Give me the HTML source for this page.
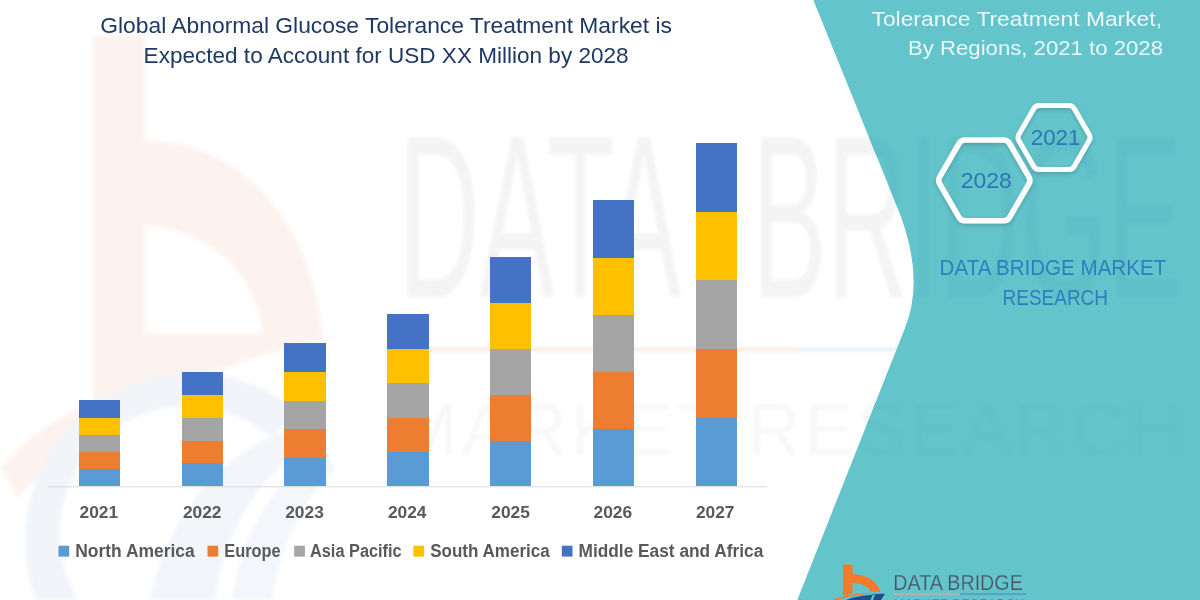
<!DOCTYPE html>
<html lang="en">
<head>
<meta charset="utf-8">
<title>Global Abnormal Glucose Tolerance Treatment Market</title>
<style>
html,body{margin:0;padding:0;background:#fff;}
body{width:1200px;height:600px;overflow:hidden;font-family:"Liberation Sans",sans-serif;}
svg{display:block;}
text{font-family:"Liberation Sans",sans-serif;}
</style>
</head>
<body>
<svg width="1200" height="600" viewBox="0 0 1200 600">
<defs>
<filter id="soft" x="-10%" y="-10%" width="120%" height="120%"><feGaussianBlur stdDeviation="1.6"/></filter>
<filter id="soft2" x="-10%" y="-10%" width="120%" height="120%"><feGaussianBlur stdDeviation="2.2"/></filter>
<filter id="hexsh" x="-20%" y="-20%" width="140%" height="140%">
<feGaussianBlur in="SourceAlpha" stdDeviation="2"/><feOffset dx="0" dy="1.5"/><feComponentTransfer><feFuncA type="linear" slope="0.18"/></feComponentTransfer>
<feMerge><feMergeNode/><feMergeNode in="SourceGraphic"/></feMerge></filter>
<clipPath id="tealclip"><path d="M813.3,0 L896,204 Q926,276 905,328 L797.3,600 L1200,600 L1200,0 Z"/></clipPath>
</defs>
<rect width="1200" height="600" fill="#ffffff"/>

<!-- watermark on white -->
<g id="wm-left" filter="url(#soft2)">
  <!-- big faint b -->
  <path fill-rule="evenodd" d="M93,36 L145,36 L145,140 C235,140 312,215 323,338 C250,348 160,372 93,402 Z M145,226 C215,230 258,280 262,333 L145,333 Z" fill="#FDF3EE"/>
  <path d="M0,468 C60,395 200,350 340,336 C220,362 90,410 18,498 Z" fill="#FDF3EE"/>
  <!-- globe -->
  <path d="M36,600 A167,167 0 0 1 300,413 L270,436 A128,128 0 0 0 78,600 Z" fill="#F1F4F9"/>
  <path d="M150,600 C165,520 220,450 300,425 L318,440 C260,470 225,530 215,600 Z" fill="#F2F5FA"/>
  <path d="M232,600 C240,540 270,480 325,450 L335,470 C300,500 280,550 272,600 Z" fill="#F3F6FA"/>
</g>
<g id="wm-text" filter="url(#soft)" fill="#F4F4F4">
  <text y="297" font-size="232"><tspan x="399" textLength="282" lengthAdjust="spacingAndGlyphs">DATA</tspan><tspan x="752" textLength="430" lengthAdjust="spacingAndGlyphs">BRIDGE</tspan></text>
  <text x="396" y="455" font-size="74" textLength="786" lengthAdjust="spacing" fill="#F8F8F8">MARKET RESEARCH</text>
  <rect x="422" y="347.5" width="376" height="4" fill="#FCEBE2"/>
  <rect x="798" y="347.5" width="120" height="4" fill="#EAF0F7"/>
</g>

<!-- teal panel -->
<path d="M813.3,0 L896,204 Q926,276 905,328 L797.3,600 L1200,600 L1200,0 Z" fill="#63C4CB"/>
<g clip-path="url(#tealclip)">
<g filter="url(#soft)" fill="#5EBFC8">
  <text y="297" font-size="232"><tspan x="399" textLength="282" lengthAdjust="spacingAndGlyphs">DATA</tspan><tspan x="752" textLength="430" lengthAdjust="spacingAndGlyphs">BRIDGE</tspan></text>
  <text x="396" y="455" font-size="74" textLength="786" lengthAdjust="spacing" fill="#60C2CA">MARKET RESEARCH</text>
</g>
</g>

<!-- chart title -->
<g fill="#1F3864" font-size="22.4">
<text x="100.3" y="32.8" textLength="571.6" lengthAdjust="spacingAndGlyphs">Global Abnormal Glucose Tolerance Treatment Market is</text>
<text x="143.6" y="62.8" textLength="485" lengthAdjust="spacingAndGlyphs">Expected to Account for USD XX Million by 2028</text>
</g>

<!-- bars -->
<g shape-rendering="crispEdges">
<rect x="79.0" y="468.84" width="41.2" height="17.46" fill="#5B9BD5"/>
<rect x="79.0" y="451.68" width="41.2" height="17.46" fill="#ED7D31"/>
<rect x="79.0" y="434.52" width="41.2" height="17.46" fill="#A5A5A5"/>
<rect x="79.0" y="417.36" width="41.2" height="17.46" fill="#FFC000"/>
<rect x="79.0" y="400.20" width="41.2" height="17.46" fill="#4472C4"/>
<rect x="182.0" y="463.12" width="41.2" height="23.18" fill="#5B9BD5"/>
<rect x="182.0" y="440.24" width="41.2" height="23.18" fill="#ED7D31"/>
<rect x="182.0" y="417.36" width="41.2" height="23.18" fill="#A5A5A5"/>
<rect x="182.0" y="394.48" width="41.2" height="23.18" fill="#FFC000"/>
<rect x="182.0" y="371.60" width="41.2" height="23.18" fill="#4472C4"/>
<rect x="284.3" y="457.40" width="41.2" height="28.90" fill="#5B9BD5"/>
<rect x="284.3" y="428.80" width="41.2" height="28.90" fill="#ED7D31"/>
<rect x="284.3" y="400.20" width="41.2" height="28.90" fill="#A5A5A5"/>
<rect x="284.3" y="371.60" width="41.2" height="28.90" fill="#FFC000"/>
<rect x="284.3" y="343.00" width="41.2" height="28.90" fill="#4472C4"/>
<rect x="387.3" y="451.68" width="41.2" height="34.62" fill="#5B9BD5"/>
<rect x="387.3" y="417.36" width="41.2" height="34.62" fill="#ED7D31"/>
<rect x="387.3" y="383.04" width="41.2" height="34.62" fill="#A5A5A5"/>
<rect x="387.3" y="348.72" width="41.2" height="34.62" fill="#FFC000"/>
<rect x="387.3" y="314.40" width="41.2" height="34.62" fill="#4472C4"/>
<rect x="489.5" y="440.24" width="41.2" height="46.06" fill="#5B9BD5"/>
<rect x="489.5" y="394.48" width="41.2" height="46.06" fill="#ED7D31"/>
<rect x="489.5" y="348.72" width="41.2" height="46.06" fill="#A5A5A5"/>
<rect x="489.5" y="302.96" width="41.2" height="46.06" fill="#FFC000"/>
<rect x="489.5" y="257.20" width="41.2" height="46.06" fill="#4472C4"/>
<rect x="592.5" y="428.80" width="41.2" height="57.50" fill="#5B9BD5"/>
<rect x="592.5" y="371.60" width="41.2" height="57.50" fill="#ED7D31"/>
<rect x="592.5" y="314.40" width="41.2" height="57.50" fill="#A5A5A5"/>
<rect x="592.5" y="257.20" width="41.2" height="57.50" fill="#FFC000"/>
<rect x="592.5" y="200.00" width="41.2" height="57.50" fill="#4472C4"/>
<rect x="695.5" y="417.36" width="41.2" height="68.94" fill="#5B9BD5"/>
<rect x="695.5" y="348.72" width="41.2" height="68.94" fill="#ED7D31"/>
<rect x="695.5" y="280.08" width="41.2" height="68.94" fill="#A5A5A5"/>
<rect x="695.5" y="211.44" width="41.2" height="68.94" fill="#FFC000"/>
<rect x="695.5" y="142.80" width="41.2" height="68.94" fill="#4472C4"/>
</g>
<rect x="48" y="486.3" width="719" height="1" fill="#D9D9D9"/>

<!-- year labels -->
<g fill="#595959" font-size="16.4" font-weight="bold">
<text x="98.8" y="518.4" text-anchor="middle" textLength="38.6" lengthAdjust="spacingAndGlyphs">2021</text>
<text x="202.2" y="518.4" text-anchor="middle" textLength="38.6" lengthAdjust="spacingAndGlyphs">2022</text>
<text x="304.5" y="518.4" text-anchor="middle" textLength="38.6" lengthAdjust="spacingAndGlyphs">2023</text>
<text x="407.2" y="518.4" text-anchor="middle" textLength="38.6" lengthAdjust="spacingAndGlyphs">2024</text>
<text x="510.6" y="518.4" text-anchor="middle" textLength="38.6" lengthAdjust="spacingAndGlyphs">2025</text>
<text x="612.8" y="518.4" text-anchor="middle" textLength="38.6" lengthAdjust="spacingAndGlyphs">2026</text>
<text x="715.2" y="518.4" text-anchor="middle" textLength="38.6" lengthAdjust="spacingAndGlyphs">2027</text>
</g>

<!-- legend -->
<g fill="#595959" font-size="17.6" font-weight="bold">
<rect x="58.5" y="545.7" width="10.7" height="10.9" fill="#5B9BD5"/>
<text x="75.2" y="557" textLength="119.6" lengthAdjust="spacingAndGlyphs">North America</text>
<rect x="207.5" y="545.7" width="10.7" height="10.9" fill="#ED7D31"/>
<text x="224.3" y="557" textLength="56.4" lengthAdjust="spacingAndGlyphs">Europe</text>
<rect x="294.2" y="545.7" width="10.7" height="10.9" fill="#A5A5A5"/>
<text x="310" y="557" textLength="91.6" lengthAdjust="spacingAndGlyphs">Asia Pacific</text>
<rect x="413.4" y="545.7" width="10.7" height="10.9" fill="#FFC000"/>
<text x="430.2" y="557" textLength="119.6" lengthAdjust="spacingAndGlyphs">South America</text>
<rect x="561.8" y="545.7" width="10.7" height="10.9" fill="#4472C4"/>
<text x="578.5" y="557" textLength="184.8" lengthAdjust="spacingAndGlyphs">Middle East and Africa</text>
</g>

<!-- right title -->
<g fill="#EAF8F9" font-size="20">
<text x="1162" y="26" text-anchor="end" textLength="290.5" lengthAdjust="spacingAndGlyphs">Tolerance Treatment Market,</text>
<text x="1163" y="55.3" text-anchor="end" textLength="255" lengthAdjust="spacingAndGlyphs">By Regions, 2021 to 2028</text>
</g>

<!-- hexagons -->
<g fill="none" stroke="#FDFEFE" stroke-linejoin="round" filter="url(#hexsh)">
<path d="M1028.90,176.94 Q1030.90,180.40 1028.90,183.86 L1009.60,217.29 Q1007.60,220.76 1003.60,220.76 L965.00,220.76 Q961.00,220.76 959.00,217.29 L939.70,183.86 Q937.70,180.40 939.70,176.94 L959.00,143.51 Q961.00,140.04 965.00,140.04 L1003.60,140.04 Q1007.60,140.04 1009.60,143.51 Z" stroke-width="5.6"/>
<path d="M1089.15,134.47 Q1090.90,137.50 1089.15,140.53 L1074.20,166.43 Q1072.45,169.46 1068.95,169.46 L1039.05,169.46 Q1035.55,169.46 1033.80,166.43 L1018.85,140.53 Q1017.10,137.50 1018.85,134.47 L1033.80,108.57 Q1035.55,105.54 1039.05,105.54 L1068.95,105.54 Q1072.45,105.54 1074.20,108.57 Z" stroke-width="5"/>
</g>
<g fill="#2E75B6" font-size="22.2">
<text x="986.2" y="188.3" text-anchor="middle" textLength="51" lengthAdjust="spacingAndGlyphs">2028</text>
<text x="1055.6" y="145.3" text-anchor="middle" textLength="49.6" lengthAdjust="spacingAndGlyphs">2021</text>
</g>

<!-- DBMR caption -->
<g fill="#2E7FBF" font-size="21.6">
<text x="939.6" y="275.2" textLength="226.6" lengthAdjust="spacingAndGlyphs">DATA BRIDGE MARKET</text>
<text x="1002.6" y="304.8" textLength="105.4" lengthAdjust="spacingAndGlyphs">RESEARCH</text>
</g>

<!-- logo -->
<g id="logo">
  <path d="M842.9,564.6 L852.5,564.6 L852.5,574.2 C866,574.2 878,581 880.3,592.3 L870.5,591.5 C868.5,586.5 862,583.3 852.5,583.3 L852.5,593.5 L842.9,596 Z" fill="#F47B2A"/>
  <path d="M832,600 C845,594.5 866,592 886,593.2 C866,593.2 848,596 838,600 Z" fill="#F47B2A"/>
  <path d="M846,600 C855,596.5 868,594.6 885,593.8 L881,600 Z" fill="#1F4E8C"/>
  <path d="M872.5,595.2 L875,595 L873,600 L870.5,600 Z" fill="#63C4CB"/>
  <text x="893.3" y="590.2" font-size="22.4" fill="#4A5662" textLength="129.5" lengthAdjust="spacingAndGlyphs" stroke="#63C4CB" stroke-width="0.25">DATA BRIDGE</text>
  <rect x="893.5" y="593.3" width="66.5" height="1.5" fill="#C4B596"/>
  <rect x="960" y="593.3" width="66" height="1.5" fill="#5596C8"/>
  <text x="894" y="607.5" font-size="12" fill="#5590B5" textLength="130" lengthAdjust="spacing">MARKET RESEARCH</text>
</g>
</svg>
</body>
</html>
